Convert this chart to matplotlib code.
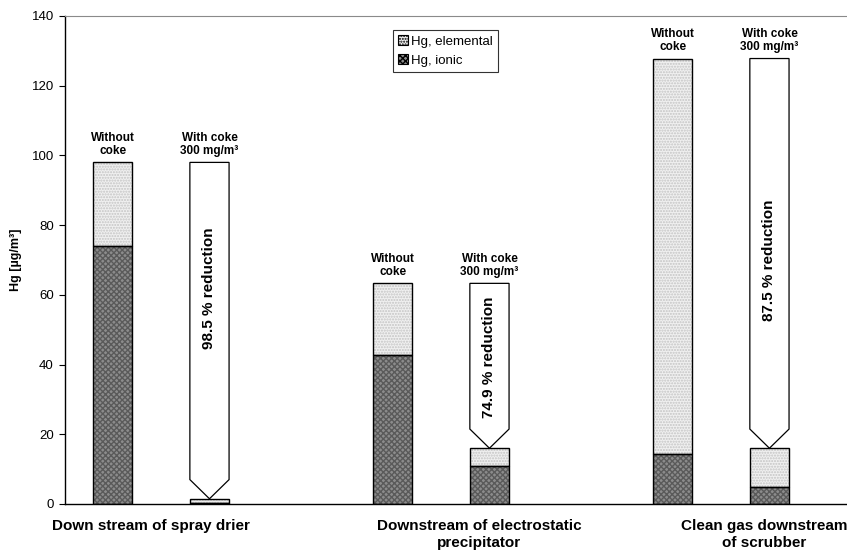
import matplotlib.pyplot as plt
from matplotlib.patches import Polygon, Patch

plt.rcParams['font.family'] = ['Liberation Sans', 'DejaVu Sans']

# Datos
grupos = ['Down stream of spray drier',
          'Downstream of electrostatic\nprecipitator',
          'Clean gas downstream\nof scrubber']
sin_coque_total = [98, 63.3, 127.8]
sin_coque_ionico = [74, 42.7, 14.4]
con_coque_total = [1.5, 16.0, 16.0]
con_coque_ionico = [0.2, 10.8, 4.9]
reduccion = ['98.5 % reduction', '74.9 % reduction', '87.5 % reduction']
base_flecha = [7.0, 21.5, 21.5]
y_texto_reduccion = [62, 42, 70]
x_etiquetas_grupo = [-0.036, 1.136, 2.155]

ancho = 0.14
desp = 0.173
color_elem = '#f0f0f0'
color_ion = '#8c8c8c'

fig = plt.figure(figsize=(8.47, 5.57), dpi=100)
ax = fig.add_axes([65 / 847, 53 / 557, 1 - 65 / 847, 488 / 557])


def barra(x, total, ionico):
    elem = total - ionico
    # relleno con trama
    ax.bar(x, ionico, ancho, color=color_ion, hatch='xxxxxx', edgecolor='#5a5a5a', linewidth=0)
    ax.bar(x, elem, ancho, bottom=ionico, color=color_elem, hatch='......', edgecolor='#c4c4c4', linewidth=0)
    # contornos
    ax.bar(x, ionico, ancho, fill=False, edgecolor='black', linewidth=1)
    ax.bar(x, elem, ancho, bottom=ionico, fill=False, edgecolor='black', linewidth=1)


for i in range(len(grupos)):
    x1 = i - desp
    x2 = i + desp
    barra(x1, sin_coque_total[i], sin_coque_ionico[i])
    barra(x2, con_coque_total[i], con_coque_ionico[i])

    # flecha de reduccion
    h = ancho / 2
    pts = [(x2 - h, sin_coque_total[i]), (x2 + h, sin_coque_total[i]),
           (x2 + h, base_flecha[i]), (x2, con_coque_total[i]),
           (x2 - h, base_flecha[i])]
    ax.add_patch(Polygon(pts, closed=True, facecolor='white', edgecolor='black', linewidth=0.9, zorder=3))
    ax.text(x2, y_texto_reduccion[i], reduccion[i], rotation=90, ha='center', va='center',
            fontsize=11, fontweight='bold', zorder=4)

    # etiquetas sobre barras
    ax.text(x1, sin_coque_total[i] + 1.5, 'Without\ncoke', ha='center', va='bottom',
            fontsize=8.5, fontweight='bold', linespacing=1.15)
    ax.text(x2, sin_coque_total[i] + 1.5, 'With coke\n300 mg/m³', ha='center', va='bottom',
            fontsize=8.5, fontweight='bold', linespacing=1.15)

    # etiqueta de grupo
    ax.text(x_etiquetas_grupo[i], -4.2, grupos[i], ha='center', va='top',
            fontsize=11, fontweight='bold', linespacing=1.3)

ax.set_xlim(-0.343, 2.45)
ax.set_ylim(0, 140)
ax.set_yticks(range(0, 141, 20))
ax.set_xticks([])
ax.tick_params(axis='y', direction='out', length=4, labelsize=9.5, pad=4)
ax.set_ylabel('Hg [µg/m³]', fontsize=9, fontweight='bold')
ax.yaxis.set_label_coords(-0.055, 0.5)

ax.spines['right'].set_visible(False)
ax.spines['top'].set_color('#8a8a8a')
ax.spines['left'].set_linewidth(1)
ax.spines['bottom'].set_linewidth(1)

handles = [Patch(facecolor=color_elem, edgecolor='black', hatch='......', linewidth=0.8),
           Patch(facecolor=color_ion, edgecolor='black', hatch='xxxxxx', linewidth=0.8)]
leg = ax.legend(handles, ['Hg, elemental', 'Hg, ionic'], loc='upper left',
                bbox_to_anchor=(0.419, 0.972), fontsize=9.5, frameon=True, fancybox=False,
                edgecolor='black', handlelength=0.8, handleheight=0.8, handletextpad=0.2,
                borderpad=0.4, labelspacing=0.5, borderaxespad=0)
leg.get_frame().set_linewidth(0.8)

fig.savefig('out.png', dpi=100)
